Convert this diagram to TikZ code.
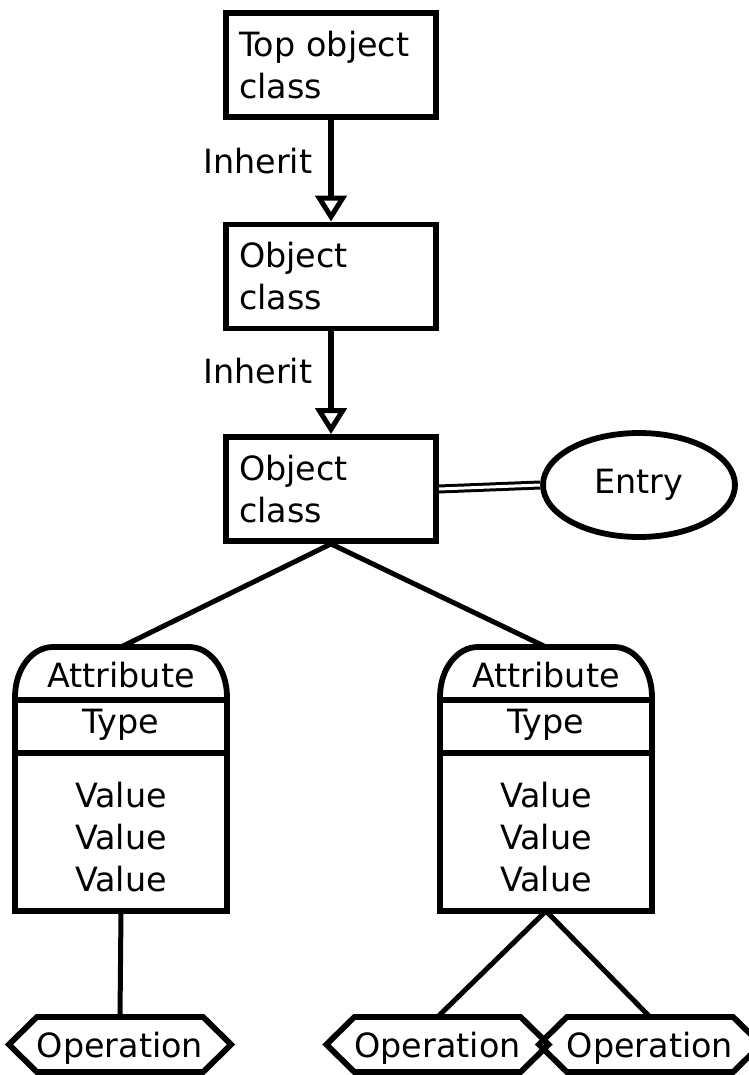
\documentclass[tikz,border=0pt]{standalone}
\usepackage{fontspec}
\setmainfont{DejaVu Sans}
\usetikzlibrary{arrows.meta,shapes.geometric,calc}

% attribute card: rounded head, type row, value area
\newcommand\attrcard[1]{%
  \draw (#1.south west) -- ($(#1.north west)+(0,50)$)
    .. controls ($(#1.north west)+(0,22)$) and ($(#1.north west)+(17,0)$) .. ($(#1.north west)+(38,0)$)
    -- ($(#1.north east)+(-38,0)$)
    .. controls ($(#1.north east)+(-17,0)$) and ($(#1.north east)+(0,22)$) .. ($(#1.north east)+(0,50)$)
    -- (#1.south east) -- cycle;
  \draw ($(#1.north west)+(0,53)$) -- ($(#1.north east)+(0,53)$);
  \draw ($(#1.north west)+(0,106)$) -- ($(#1.north east)+(0,106)$);
}
% operation: flat-topped hexagon around a node
\newcommand\opshape[1]{%
  \draw (#1.north west) -- (#1.north east) -- ($(#1.east)+(28,0)$)
    -- (#1.south east) -- (#1.south west) -- ($(#1.west)+(-28,0)$) -- cycle;
}

\begin{document}
\begin{tikzpicture}[x=1pt,y=-1pt,line width=5.8pt,line join=miter,
  every node/.style={font=\fontsize{33.4}{42}\selectfont,inner sep=0pt},
  classbox/.style={draw,rectangle,minimum width=210pt,minimum height=104pt,
    text width=184pt,align=left},
  attrbody/.style={rectangle,minimum width=212pt,minimum height=264pt,outer sep=0pt},
  opnode/.style={rectangle,minimum width=152pt,minimum height=55pt,outer sep=0pt,
    text depth=0pt},
  entrynode/.style={draw,ellipse,minimum width=192pt,minimum height=104pt},
  inherit/.style={-{Triangle[open,length=26pt,width=31pt,line width=5pt]}},
  link/.style={line width=5pt},
  dbl/.style={double,double distance=3pt,line width=3pt}]

\fill[white] (0,0) rectangle (748,1075);
\useasboundingbox (0,0) rectangle (748,1075);

% class hierarchy
\node[classbox] (top)  at (331,65)    {Top object\\class};
\node[classbox] (obj1) at (331,276.5) {Object\\class};
\node[classbox] (obj2) at (331,489)   {Object\\class};
\node[entrynode] (entry) at (639,485) {Entry};

\draw[inherit] (top.south) -- (obj1.north)
  node[pos=0.4,left=16pt] {Inherit};
\draw[inherit] (obj1.south) -- (obj2.north)
  node[pos=0.39,left=16pt] {Inherit};
\draw[dbl] (obj2.east) -- (entry.west);

% attributes
\node[attrbody] (attrL) at (121,779) {};
\node[attrbody] (attrR) at (546,779) {};
\attrcard{attrL}
\attrcard{attrR}
\foreach \a in {attrL,attrR}{
  \node (\a-name) at ($(\a.north)+(0,28)$) {Attribute};
  \node (\a-type) at ($(\a.north)+(0,78)$) {Type};
  \node[align=center] (\a-vals) at ($(\a.north)+(0,190)$) {Value\\Value\\Value};
}
\draw[link] (obj2.south) -- (attrL.north);
\draw[link] (obj2.south) -- (attrR.north);

% operations
\node[opnode] (opA) at (120,1044.5) {Operation};
\node[opnode] (opB) at (437.5,1044.5) {Operation};
\node[opnode] (opC) at (650,1044.5) {Operation};
\opshape{opA}
\opshape{opB}
\opshape{opC}
\draw[link] (attrL.south) -- (opA.north);
\draw[link] (attrR.south) -- (opB.north);
\draw[link] (attrR.south) -- (opC.north);
\end{tikzpicture}
\end{document}
